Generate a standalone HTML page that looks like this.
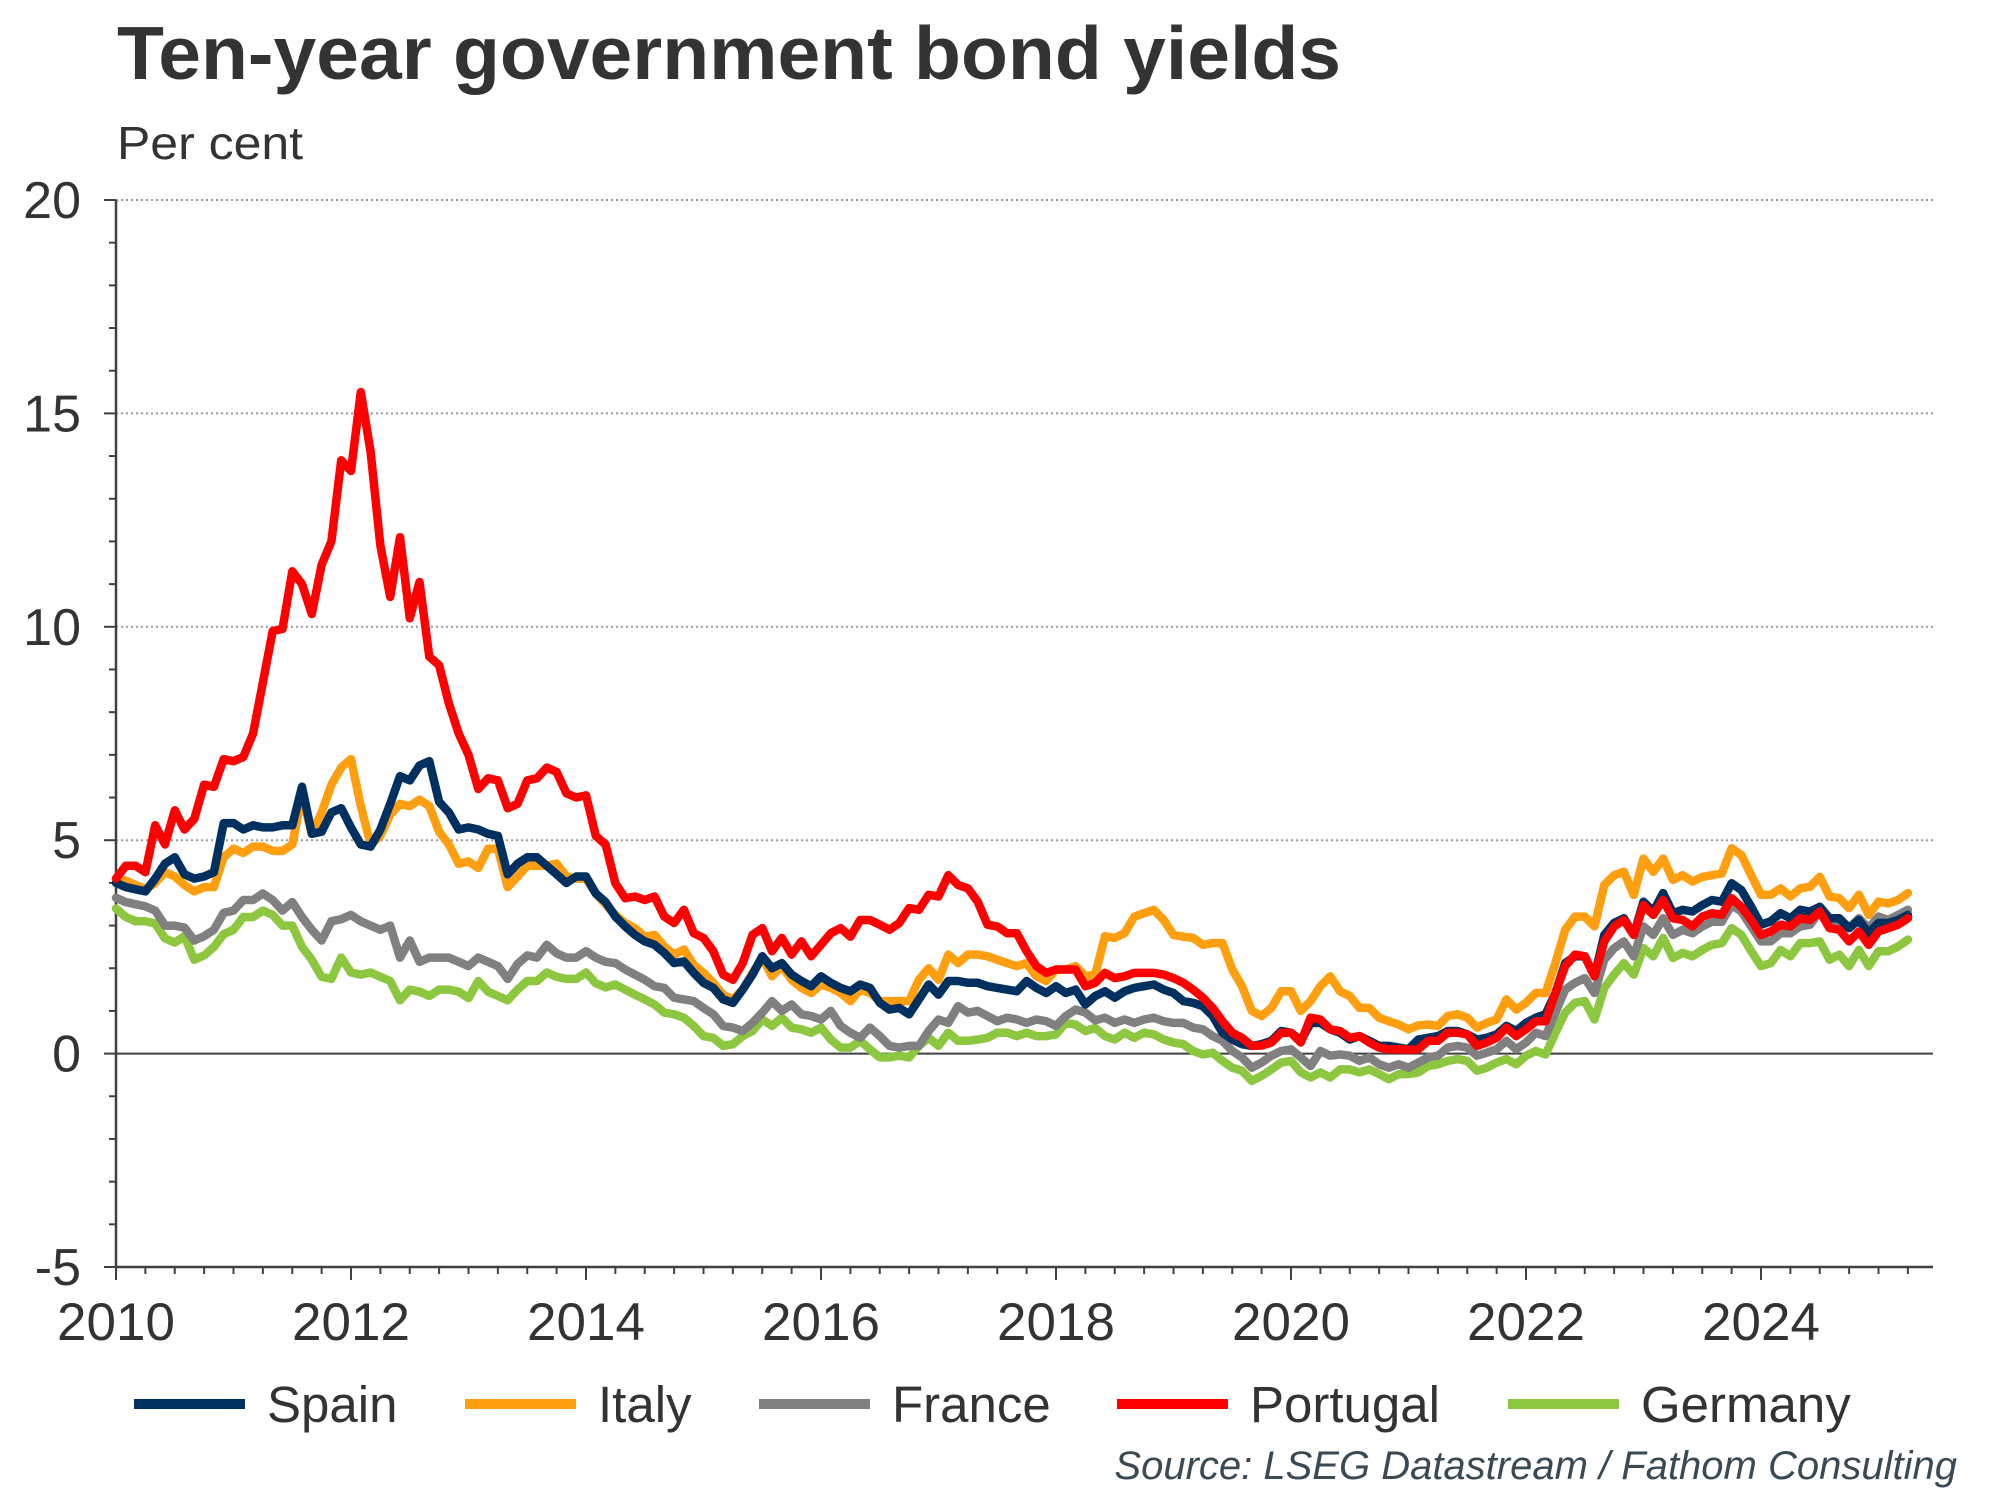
<!DOCTYPE html>
<html><head><meta charset="utf-8"><style>
html,body{margin:0;padding:0;background:#fff;}
svg{display:block;font-family:"Liberation Sans",Arial,sans-serif;}
</style></head><body>
<svg id="chart" width="2000" height="1500" viewBox="0 0 2000 1500" xmlns="http://www.w3.org/2000/svg">
<text x="117" y="79" font-size="75" font-weight="bold" fill="#333" textLength="1224" lengthAdjust="spacingAndGlyphs">Ten-year government bond yields</text>
<text x="117" y="159" font-size="46" fill="#333" textLength="186" lengthAdjust="spacingAndGlyphs">Per cent</text>
<g id="grid"></g>
<g id="axes"></g>
<g id="series"></g>
<g id="legend"></g>
<text x="1957" y="1479" font-size="40" font-style="italic" fill="#3a4a55" text-anchor="end">Source: LSEG Datastream / Fathom Consulting</text>
</svg>
<script>
const seriesNames = ["Germany","France","Italy","Spain","Portugal"];
const legendOrder = ["Spain","Italy","France","Portugal","Germany"];
const yTicks = [-5,0,5,10,15,20];
const yTickLabels = ["-5","0","5","10","15","20"];
const xTicks = [2010,2012,2014,2016,2018,2020,2022,2024];
const xTickLabels = ["2010","2012","2014","2016","2018","2020","2022","2024"];
const startYear = 2010;

const spain = [4.0,3.9,3.85,3.8,4.1,4.45,4.6,4.2,4.1,4.15,4.25,5.4,5.4,5.25,5.35,5.3,5.3,5.35,5.35,6.25,5.15,5.2,5.65,5.75,5.3,4.9,4.85,5.25,5.85,6.5,6.4,6.75,6.85,5.9,5.65,5.25,5.3,5.25,5.15,5.1,4.2,4.45,4.6,4.6,4.4,4.2,4.0,4.15,4.15,3.75,3.55,
3.21,2.98,2.78,2.63,2.55,2.36,2.12,2.16,1.89,1.66,1.54,1.27,1.19,1.5,1.85,2.28,2.0,2.12,1.85,1.7,1.58,1.81,1.66,1.54,1.46,1.62,1.54,1.19,1.03,1.07,0.92,1.27,1.62,1.38,1.7,1.7,1.66,1.66,1.58,1.54,1.5,1.46,1.7,1.54,1.42,1.58,1.42,1.5,1.15,
1.35,1.46,1.31,1.46,1.54,1.58,1.62,1.5,1.42,1.23,1.19,1.11,0.88,0.49,0.33,0.22,0.18,0.22,0.3,0.53,0.49,0.3,0.72,0.72,0.57,0.49,0.33,0.41,0.3,0.18,0.18,0.14,0.1,0.33,0.37,0.41,0.53,0.53,0.45,0.33,0.37,0.45,0.65,0.53,0.72,0.84,0.92,1.42,2.12,2.28,
2.28,1.81,2.78,3.06,3.17,2.78,3.56,3.33,3.76,3.29,3.37,3.33,3.48,3.6,3.56,3.99,3.83,3.44,3.02,3.1,3.29,3.17,3.37,3.33,3.44,3.17,3.17,2.94,3.13,2.82,3.06,3.06,3.13,3.25];
const italy = [4.1,4.05,3.95,3.85,4.0,4.25,4.15,3.95,3.8,3.9,3.9,4.6,4.8,4.7,4.85,4.85,4.75,4.75,4.9,6.05,5.15,5.65,6.3,6.7,6.9,5.8,4.9,5.1,5.6,5.85,5.8,5.95,5.8,5.2,4.9,4.45,4.5,4.35,4.8,4.8,3.9,4.15,4.4,4.4,4.4,4.45,4.15,4.1,4.1,3.75,3.5,
3.25,3.06,2.94,2.74,2.78,2.51,2.32,2.44,2.08,1.89,1.66,1.38,1.27,1.5,1.89,2.24,1.81,2.05,1.73,1.54,1.42,1.62,1.54,1.42,1.23,1.5,1.42,1.23,1.23,1.23,1.23,1.73,2.0,1.73,2.32,2.12,2.32,2.32,2.28,2.2,2.12,2.05,2.12,1.81,1.7,1.97,1.97,2.05,1.81,
1.85,2.75,2.71,2.82,3.21,3.29,3.37,3.13,2.78,2.74,2.71,2.55,2.59,2.59,1.97,1.58,1.0,0.88,1.07,1.46,1.46,1.0,1.23,1.58,1.81,1.46,1.35,1.07,1.07,0.84,0.76,0.68,0.57,0.66,0.68,0.65,0.88,0.92,0.84,0.61,0.72,0.8,1.27,1.03,1.19,1.42,1.42,2.12,2.9,3.21,
3.21,2.98,3.95,4.18,4.26,3.72,4.57,4.26,4.57,4.07,4.18,4.03,4.14,4.18,4.22,4.81,4.65,4.18,3.72,3.72,3.87,3.68,3.87,3.91,4.14,3.68,3.64,3.41,3.72,3.25,3.56,3.52,3.6,3.76];
const france = [3.65,3.55,3.5,3.45,3.35,3.0,3.0,2.95,2.65,2.75,2.9,3.3,3.35,3.6,3.6,3.75,3.6,3.35,3.55,3.2,2.9,2.65,3.1,3.15,3.25,3.1,3.0,2.9,3.0,2.25,2.65,2.15,2.25,2.25,2.25,2.15,2.05,2.25,2.15,2.05,1.75,2.1,2.3,2.25,2.55,2.35,2.25,2.25,2.4,2.25,2.15,
2.12,1.97,1.85,1.73,1.58,1.54,1.31,1.27,1.23,1.07,0.92,0.65,0.61,0.53,0.72,0.96,1.23,1.0,1.15,0.92,0.88,0.8,1.0,0.65,0.49,0.37,0.61,0.41,0.18,0.14,0.18,0.18,0.53,0.8,0.72,1.11,0.96,1.0,0.88,0.76,0.84,0.8,0.72,0.8,0.76,0.65,0.88,1.03,0.96,
0.78,0.84,0.72,0.8,0.72,0.8,0.84,0.76,0.72,0.72,0.61,0.57,0.41,0.3,0.06,-0.09,-0.33,-0.21,-0.05,0.06,0.1,-0.09,-0.29,0.06,-0.05,-0.02,-0.05,-0.17,-0.09,-0.25,-0.33,-0.25,-0.33,-0.21,-0.09,-0.05,0.14,0.18,0.14,-0.05,0.02,0.1,0.3,0.1,0.26,0.49,0.41,0.96,1.5,1.66,
1.77,1.42,2.2,2.47,2.63,2.28,2.98,2.78,3.17,2.78,2.9,2.82,2.98,3.09,3.09,3.48,3.33,2.98,2.63,2.63,2.82,2.82,2.98,3.02,3.33,3.09,3.09,2.94,3.17,2.94,3.21,3.13,3.25,3.37];
const portugal = [4.1,4.4,4.4,4.25,5.35,4.9,5.7,5.25,5.5,6.3,6.25,6.9,6.85,6.95,7.5,8.7,9.9,9.95,11.3,11.0,10.3,11.45,12.0,13.9,13.65,15.5,14.1,11.9,10.7,12.1,10.2,11.05,9.3,9.1,8.2,7.5,7.0,6.2,6.45,6.4,5.75,5.85,6.4,6.45,6.7,6.6,6.1,6.0,6.05,5.1,4.9,
3.99,3.64,3.68,3.6,3.68,3.21,3.06,3.37,2.82,2.71,2.4,1.85,1.73,2.12,2.78,2.94,2.4,2.71,2.32,2.63,2.28,2.55,2.82,2.94,2.74,3.13,3.13,3.02,2.9,3.06,3.41,3.37,3.72,3.68,4.18,3.95,3.87,3.56,3.02,2.98,2.82,2.82,2.4,2.05,1.89,1.97,1.97,1.97,1.58,
1.66,1.89,1.77,1.81,1.89,1.89,1.89,1.85,1.77,1.66,1.5,1.31,1.07,0.76,0.49,0.37,0.18,0.19,0.26,0.49,0.49,0.26,0.84,0.8,0.57,0.53,0.37,0.41,0.26,0.14,0.1,0.1,0.09,0.1,0.3,0.3,0.49,0.49,0.45,0.18,0.26,0.37,0.61,0.41,0.57,0.76,0.76,1.42,2.05,2.32,
2.28,1.81,2.63,2.98,3.13,2.78,3.48,3.25,3.6,3.17,3.13,2.98,3.21,3.29,3.25,3.64,3.44,3.13,2.78,2.86,3.02,2.98,3.17,3.13,3.33,2.94,2.9,2.63,2.86,2.55,2.86,2.94,3.02,3.17];
const germany = [3.4,3.2,3.1,3.1,3.05,2.7,2.6,2.75,2.2,2.3,2.5,2.8,2.9,3.2,3.2,3.35,3.25,3.0,3.0,2.5,2.2,1.8,1.75,2.25,1.9,1.85,1.9,1.8,1.7,1.25,1.5,1.45,1.35,1.5,1.5,1.45,1.3,1.7,1.45,1.35,1.25,1.5,1.7,1.7,1.9,1.8,1.75,1.75,1.9,1.65,1.55,
1.62,1.5,1.38,1.27,1.15,0.96,0.92,0.84,0.65,0.41,0.37,0.18,0.22,0.41,0.53,0.8,0.65,0.84,0.61,0.57,0.49,0.61,0.33,0.14,0.14,0.3,0.1,-0.09,-0.09,-0.05,-0.09,0.18,0.37,0.18,0.49,0.3,0.3,0.33,0.37,0.49,0.49,0.41,0.49,0.41,0.41,0.45,0.72,0.68,0.53,
0.6,0.41,0.33,0.49,0.37,0.49,0.45,0.33,0.26,0.22,0.06,-0.02,0.02,-0.17,-0.33,-0.4,-0.64,-0.52,-0.37,-0.21,-0.17,-0.44,-0.56,-0.44,-0.56,-0.37,-0.37,-0.44,-0.37,-0.48,-0.6,-0.48,-0.48,-0.44,-0.29,-0.25,-0.17,-0.13,-0.17,-0.4,-0.33,-0.21,-0.13,-0.25,-0.05,0.06,-0.02,0.49,0.96,1.19,
1.23,0.8,1.54,1.85,2.12,1.85,2.47,2.28,2.71,2.24,2.36,2.28,2.43,2.55,2.59,2.94,2.78,2.4,2.05,2.12,2.43,2.28,2.59,2.59,2.63,2.2,2.32,2.05,2.43,2.05,2.4,2.4,2.51,2.67];

const NS = "http://www.w3.org/2000/svg";
const P = {left:116, right:1933, top:200, bottom:1267};
const X0 = 2010, PXYR = 117.5;
const yMin = -5, yMax = 20;
function xScale(yr){ return P.left + (yr - X0) * PXYR; }
function yScale(v){ return P.bottom - (v - yMin) / (yMax - yMin) * (P.bottom - P.top); }
function mk(tag, attrs, parent){ const e = document.createElementNS(NS, tag); for (const k in attrs) e.setAttribute(k, attrs[k]); parent.appendChild(e); return e; }

const grid = document.getElementById('grid');
const axes = document.getElementById('axes');
const ser = document.getElementById('series');
const leg = document.getElementById('legend');

yTicks.forEach((t, k) => {
  const y = yScale(t);
  if (t > 0) {
    const g = mk('line', {x1:P.left, x2:P.right, y1:y, y2:y, stroke:'#999', 'stroke-width':2, 'stroke-dasharray':'2 3'}, grid);
    
    
  }
  const tk = mk('line', {x1:P.left-12, x2:P.left, y1:y, y2:y, stroke:'#404040', 'stroke-width':2}, axes);
  
  
  const lb = mk('text', {x:81, y:y+18, 'font-size':52, fill:'#333', 'text-anchor':'end'}, axes);
  lb.textContent = yTickLabels[k];
  
  
});
for (let v = yMin; v <= yMax; v++) {
  if (v % 5 === 0) continue;
  const y = yScale(v);
  const m = mk('line', {x1:P.left-7, x2:P.left, y1:y, y2:y, stroke:'#404040', 'stroke-width':2}, axes);
  
  
}
const z = mk('line', {x1:P.left, x2:P.right, y1:yScale(0), y2:yScale(0), stroke:'#404040', 'stroke-width':2}, axes);


const ya = mk('line', {x1:P.left, x2:P.left, y1:P.top, y2:P.bottom, stroke:'#404040', 'stroke-width':2.5}, axes);


const xa = mk('line', {x1:P.left, x2:P.right, y1:P.bottom, y2:P.bottom, stroke:'#404040', 'stroke-width':2.5}, axes);


for (let q = 0; q <= 62; q++) {
  const yr = X0 + q / 4;
  const x = xScale(yr);
  if (x > P.right) break;
  const major = (q % 8 === 0);
  const t = mk('line', {x1:x, x2:x, y1:P.bottom, y2:P.bottom + (major ? 13 : 7), stroke:'#404040', 'stroke-width':2}, axes);
  
  
}
xTicks.forEach((t, k) => {
  const lb = mk('text', {x:xScale(t), y:1340, 'font-size':53, fill:'#333', 'text-anchor':'middle'}, axes);
  lb.textContent = xTickLabels[k];
  
  
});

const data = {Spain:spain, Italy:italy, France:france, Portugal:portugal, Germany:germany};
const colors = {Spain:'#00305f', Italy:'#ff9e0f', France:'#808080', Portugal:'#ff0000', Germany:'#8dc63f'};
seriesNames.forEach(n => {
  const arr = data[n];
  const d = arr.map((v, i) => (i ? 'L' : 'M') + xScale(startYear + i / 12).toFixed(1) + ',' + yScale(v).toFixed(1)).join(' ');
  const p = mk('path', {d:d, fill:'none', stroke:colors[n], 'stroke-width':8.5, 'stroke-linejoin':'round', 'stroke-linecap':'round'}, ser);
  
  
});

const legX = [134, 465, 759, 1117, 1508];
legendOrder.forEach((n, k) => {
  const g = mk('g', {}, leg);
  
  
  mk('line', {x1:legX[k], x2:legX[k] + 111, y1:1404, y2:1404, stroke:colors[n], 'stroke-width':10}, g);
  const t = mk('text', {x:legX[k] + 133, y:1422, 'font-size':51, fill:'#333'}, g);
  t.textContent = n;
});
</script>
</body></html>
